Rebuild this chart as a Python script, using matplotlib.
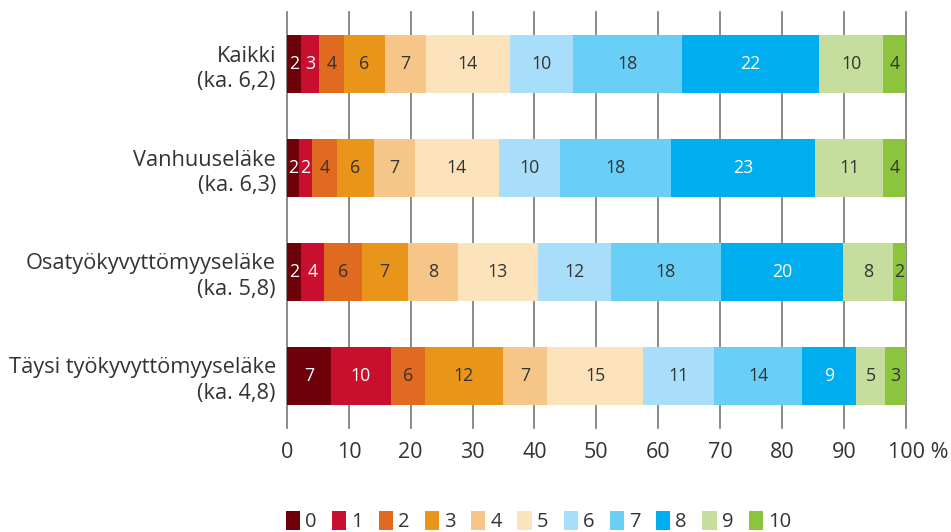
import numpy as np
import matplotlib
matplotlib.use('Agg')
import matplotlib.pyplot as plt
import matplotlib.transforms as mtransforms
from matplotlib.patches import Patch

plt.rcParams['font.family'] = ['Open Sans', 'DejaVu Sans']

# Data
groups = ['Kaikki\n(ka. 6,2)', 'Vanhuuseläke\n(ka. 6,3)',
          'Osatyökyvyttömyyseläke\n(ka. 5,8)', 'Täysi työkyvyttömyyseläke\n(ka. 4,8)']
scores = ['0', '1', '2', '3', '4', '5', '6', '7', '8', '9', '10']

# shares (%) as drawn
kaikki = [2.3, 2.9, 4.0, 6.6, 6.6, 13.7, 10.1, 17.7, 22.1, 10.4, 3.5]
vanhuus = [1.9, 2.2, 4.0, 5.9, 6.7, 13.5, 9.9, 18.0, 23.3, 11.0, 3.5]
osatyo = [2.3, 3.6, 6.2, 7.4, 8.1, 12.9, 11.8, 17.9, 19.7, 8.0, 2.1]
taysi = [7.1, 9.7, 5.5, 12.6, 7.2, 15.5, 11.4, 14.3, 8.7, 4.7, 3.3]

# printed (rounded) labels
kaikki_lbl = [2, 3, 4, 6, 7, 14, 10, 18, 22, 10, 4]
vanhuus_lbl = [2, 2, 4, 6, 7, 14, 10, 18, 23, 11, 4]
osatyo_lbl = [2, 4, 6, 7, 8, 13, 12, 18, 20, 8, 2]
taysi_lbl = [7, 10, 6, 12, 7, 15, 11, 14, 9, 5, 3]

shares = np.array([kaikki, vanhuus, osatyo, taysi])
labels = np.array([kaikki_lbl, vanhuus_lbl, osatyo_lbl, taysi_lbl])

colors = ['#6e0009', '#c8102e', '#e06a1f', '#e8951a', '#f5c688', '#fde3bb',
          '#a9defa', '#6acff6', '#00aeef', '#c5de9d', '#8cc43e']
white_text = {0, 1, 8}
txt = '#333333'

fig = plt.figure(figsize=(9.51, 5.32), dpi=100)
ax = fig.add_axes([287 / 951, 1 - 428 / 532, (905.7 - 287) / 951, (428 - 12) / 532])

y = np.arange(len(groups))
left = np.zeros(len(groups))
for i in range(len(scores)):
    ax.barh(y, shares[:, i], left=left, height=0.55, color=colors[i],
            edgecolor='none', zorder=2)
    for j in range(len(groups)):
        ax.text(left[j] + shares[j, i] / 2, y[j], str(labels[j, i]),
                ha='center', va='center', fontsize=12.8,
                color='white' if i in white_text else txt, zorder=3)
    left += shares[:, i]

ax.set_xlim(0, 100)
ax.set_ylim(3.5, -0.5)

# gridlines
ax.set_xticks(np.arange(0, 101, 10))
for xv in np.arange(0, 101, 10):
    ax.axvline(xv, color='#777777', lw=1.2, zorder=1, clip_on=False)

ax.set_yticks(y)
ax.set_yticklabels(groups, fontsize=15.7, color=txt, linespacing=1.25)
ax.tick_params(axis='y', length=0, pad=8)
ax.tick_params(axis='x', length=0, pad=10, labelsize=15.5, labelcolor=txt)

xt = [str(v) for v in range(0, 101, 10)]
xt[-1] = '100 %'
ax.set_xticklabels(xt)
lab = ax.get_xticklabels()[-1]
lab.set_transform(lab.get_transform() + mtransforms.ScaledTranslation(13 / 100, 0, fig.dpi_scale_trans))

for s in ax.spines.values():
    s.set_visible(False)

handles = [Patch(facecolor=c, edgecolor='none') for c in colors]
fig.legend(handles, scores, loc='upper left', bbox_to_anchor=(286 / 951, 1 - 511 / 532),
           ncol=11, frameon=False, fontsize=14.5, handlelength=0.7, handleheight=1.05,
           handletextpad=0.25, columnspacing=0.775, borderpad=0, borderaxespad=0,
           labelcolor=txt)

fig.savefig('out.png', dpi=100)
